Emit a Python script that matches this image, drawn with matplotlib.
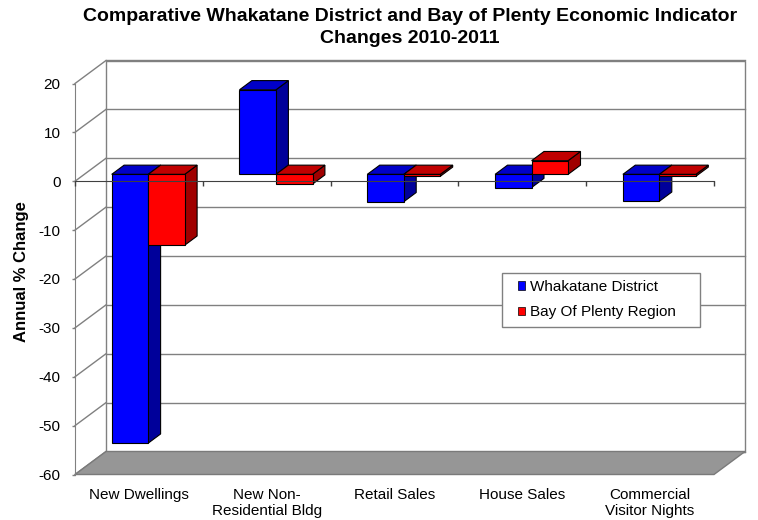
import matplotlib
matplotlib.use("Agg")
import matplotlib.pyplot as plt
from matplotlib.patches import Polygon, Rectangle, Patch

plt.rcParams['font.family'] = ['Liberation Sans', 'DejaVu Sans']

# ---------------- data ----------------
categories = ["New Dwellings", "New Non-\nResidential Bldg", "Retail Sales",
              "House Sales", "Commercial\nVisitor Nights"]
whakatane = [-55.0, 17.3, -5.6, -2.7, -5.5]
bay_of_plenty = [-14.5, -2.0, -0.4, 2.8, -0.4]
series_names = ["Whakatane District", "Bay Of Plenty Region"]
y_ticks = [-60, -50, -40, -30, -20, -10, 0, 10, 20]
title = "Comparative Whakatane District and Bay of Plenty Economic Indicator\nChanges 2010-2011"
y_label = "Annual % Change"

# ---------------- styling / layout ----------------
W, H = 758, 520
fig = plt.figure(figsize=(W / 100, H / 100), dpi=100)
ax = fig.add_axes([0, 0, 1, 1])

px_cat = 127.8      # pixels per category on the front plane
px_val = 4.8875     # pixels per value unit
x0_px = 75.0        # front x of category 0
y0_px = 181.25      # front y of value 0 (from top)
ax.set_xlim(-x0_px / px_cat, (W - x0_px) / px_cat)
ax.set_ylim((y0_px - H) / px_val, y0_px / px_val)

# oblique depth offsets (full depth) in data units
DX = 31.0 / px_cat
DY = 23.0 / px_val
f0, f1 = 0.30, 0.70           # bar depth span
bar_w = 36.5 / px_cat
n = len(categories)
ymin, ymax = min(y_ticks), max(y_ticks)
grid_c = '#808080'

# back wall
ax.add_patch(Rectangle((DX, ymin + DY), n, ymax - ymin, facecolor='white',
                       edgecolor=grid_c, lw=1.0, zorder=1))
# back wall gridlines and side diagonals
for v in y_ticks:
    ax.plot([DX, n + DX], [v + DY, v + DY], color=grid_c, lw=1.0, zorder=1.5)
    ax.plot([0, DX], [v, v + DY], color=grid_c, lw=1.0, zorder=1.5)

# floor
ax.add_patch(Polygon([(0, ymin), (n, ymin), (n + DX, ymin + DY), (DX, ymin + DY)],
                     closed=True, facecolor='#969696', edgecolor='#7a7a7a',
                     lw=1.0, zorder=2))


def bar3d(x, w, v, c_front, c_top, c_side, z):
    ox0, oy0 = f0 * DX, f0 * DY
    ox1, oy1 = f1 * DX, f1 * DY
    lo, hi = min(0, v), max(0, v)
    front = [(x + ox0, lo + oy0), (x + w + ox0, lo + oy0),
             (x + w + ox0, hi + oy0), (x + ox0, hi + oy0)]
    top = [(x + ox0, hi + oy0), (x + w + ox0, hi + oy0),
           (x + w + ox1, hi + oy1), (x + ox1, hi + oy1)]
    side = [(x + w + ox0, lo + oy0), (x + w + ox1, lo + oy1),
            (x + w + ox1, hi + oy1), (x + w + ox0, hi + oy0)]
    for pts, c in ((side, c_side), (top, c_top), (front, c_front)):
        ax.add_patch(Polygon(pts, closed=True, facecolor=c, edgecolor='black',
                             lw=0.8, joinstyle='miter', zorder=z))


blue = ('#0000FF', '#0000C8', '#00009A')
red = ('#FF0000', '#C00000', '#A00000')
z = 3
for i in range(n):
    c = i + 0.5
    bar3d(c - bar_w, bar_w, whakatane[i], *blue, z)
    z += 0.1
    bar3d(c, bar_w, bay_of_plenty[i], *red, z)
    z += 0.1

# axes: left value axis and zero category axis
for s in ('top', 'right'):
    ax.spines[s].set_visible(False)
ax.spines['left'].set_position(('data', 0))
ax.spines['left'].set_bounds(ymin, ymax)
ax.spines['left'].set_color(grid_c)
ax.spines['bottom'].set_position(('data', 0))
ax.spines['bottom'].set_bounds(0, n)
ax.spines['bottom'].set_color('#404040')
ax.spines['bottom'].set_zorder(20)
ax.xaxis.set_zorder(20)
ax.set_xticks(range(n + 1))
ax.set_xticklabels([])
ax.tick_params(axis='x', direction='out', length=3.5, color='#404040', width=1)
ax.set_yticks(y_ticks)
ax.set_yticklabels([str(t) for t in y_ticks], fontsize=11)
ax.tick_params(axis='y', direction='out', length=2.5, color=grid_c, width=1, pad=8)

# category labels
for i, lab in enumerate(categories):
    ax.text(i + 0.5, -62.8, lab, ha='center', va='top', fontsize=11)

# title and axis label
fig.text(410 / W, 1 - 8 / H, title, ha='center', va='top', fontsize=14,
         fontweight='bold', linespacing=1.42)
fig.text(22 / W, 1 - 272 / H, y_label, rotation=90, ha='center', va='center',
         fontsize=12, fontweight='bold')

# legend
ax.add_patch(Rectangle((502 / W, 1 - 327 / H), 198 / W, 54 / H, transform=fig.transFigure,
                       facecolor='white', edgecolor=grid_c, lw=1.0, zorder=4,
                       clip_on=False))
handles = [Patch(facecolor=blue[0], edgecolor='black', lw=0.5),
           Patch(facecolor=red[0], edgecolor='black', lw=0.5)]
leg = ax.legend(handles, series_names, loc='upper left',
                bbox_to_anchor=(518 / W, 1 - 280 / H), bbox_transform=fig.transFigure,
                frameon=False, borderpad=0, borderaxespad=0, handlelength=0.47,
                handleheight=0.47, handletextpad=0.3, labelspacing=0.75, fontsize=11)
leg.set_zorder(5)

fig.savefig("out.png", dpi=100)
